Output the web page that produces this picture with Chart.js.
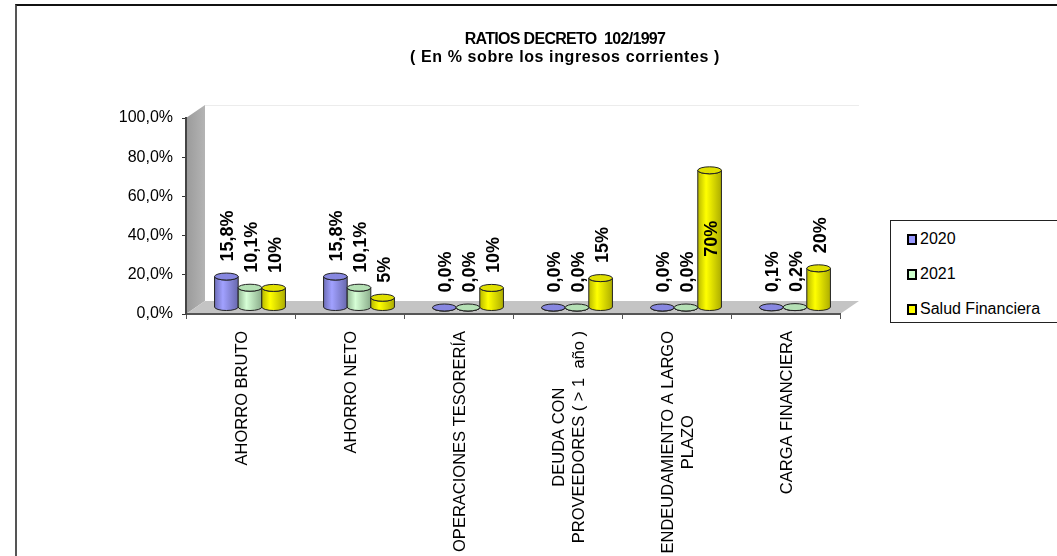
<!DOCTYPE html>
<html>
<head>
<meta charset="utf-8">
<script src="https://cdn.jsdelivr.net/npm/chart.js@4"></script>
<style>
  html, body { margin: 0; padding: 0; background: #fff; overflow: hidden; }
  body { width: 1057px; height: 556px; position: relative; font-family: "Liberation Sans", Arial, sans-serif; }
  #frame { position: absolute; left: 15px; top: 4px; width: 1100px; height: 600px;
           border-top: 2px solid #111; border-left: 2px solid #555; }
  #title { position: absolute; left: 365px; top: 30px; width: 400px; text-align: center;
           font-weight: bold; font-size: 16px; line-height: 18px; color: #000; }
  #title .l1 { letter-spacing: -0.7px; }
  #title .l2 { letter-spacing: 0.6px; }
  #legend { position: absolute; left: 890px; top: 220px; width: 170px; height: 101px;
            border: 1px solid #222; background: #fff; }
  .item { position: absolute; left: 16px; height: 18px; line-height: 18px; font-size: 16px; color: #000; }
  .swatch { display: inline-block; width: 6px; height: 7px; border: 2px solid #000;
            vertical-align: -1px; margin-right: 3px; }
  canvas { position: absolute; left: 0; top: 0; }
</style>
</head>
<body>
<div id="frame"></div>
<canvas id="ratios" width="1057" height="556"></canvas>
<div id="title"><span class="l1">RATIOS DECRETO&nbsp; 102/1997</span><br><span class="l2">( En % sobre los ingresos corrientes )</span></div>
<div id="legend"></div>
<script>
const FONT = '"Liberation Sans", Arial, sans-serif';

const categories = [
    'AHORRO BRUTO',
    'AHORRO NETO',
    'OPERACIONES TESORERÍA',
    ['DEUDA CON', 'PROVEEDORES ( > 1  año )'],
    ['ENDEUDAMIENTO A LARGO', 'PLAZO'],
    'CARGA FINANCIERA',
];

const seriesNames = ['2020', '2021', 'Salud Financiera'];
const values2020 = [15.8, 15.8, 0, 0, 0, 0.1];
const values2021 = [10.1, 10.1, 0, 0, 0, 0.2];
const valuesSalud = [10, 5, 10, 15, 70, 20];
const seriesColors = ['#9999ff', '#ccffcc', '#ffff00'];
const labelDecimals = [1, 1, 0];

// depth of the fake 3D box (back wall offset from the front axes)
const DEPTH_X = 19;
const DEPTH_Y = -13;
const INSIDE_FROM = 50; // tall bars carry their label inside

const shade = (hex, f) => {
    const n = parseInt(hex.slice(1), 16);
    const c = [(n >> 16) & 255, (n >> 8) & 255, n & 255].map((v) =>
        Math.max(0, Math.min(255, Math.round(v * f)))
    );
    return `rgb(${c[0]},${c[1]},${c[2]})`;
};

const fmt = (v, d) => v.toFixed(d).replace('.', ',') + '%';

// walls and floor behind the axes
const boxPlugin = {
    id: 'box3d',
    beforeDraw(chart) {
        const { ctx, chartArea: a } = chart;
        ctx.save();
        // back wall top edge
        ctx.strokeStyle = '#ececec';
        ctx.lineWidth = 1;
        ctx.beginPath();
        ctx.moveTo(a.left + DEPTH_X, a.top + DEPTH_Y + 0.5);
        ctx.lineTo(a.right + DEPTH_X, a.top + DEPTH_Y + 0.5);
        ctx.stroke();
        // left wall
        const g = ctx.createLinearGradient(a.left, 0, a.left + DEPTH_X, 0);
        g.addColorStop(0, '#9a9a9a');
        g.addColorStop(1, '#b4b4b4');
        ctx.fillStyle = g;
        ctx.beginPath();
        ctx.moveTo(a.left, a.top);
        ctx.lineTo(a.left + DEPTH_X, a.top + DEPTH_Y);
        ctx.lineTo(a.left + DEPTH_X, a.bottom + DEPTH_Y);
        ctx.lineTo(a.left, a.bottom);
        ctx.closePath();
        ctx.fill();
        // floor
        ctx.fillStyle = '#c4c4c4';
        ctx.beginPath();
        ctx.moveTo(a.left, a.bottom);
        ctx.lineTo(a.left + DEPTH_X, a.bottom + DEPTH_Y);
        ctx.lineTo(a.right + DEPTH_X, a.bottom + DEPTH_Y);
        ctx.lineTo(a.right, a.bottom);
        ctx.closePath();
        ctx.fill();
        ctx.restore();
    },
};

const drawCylinder = (ctx, cx, top, bottom, w, color) => {
    const rx = w / 2;
    const ry = 3.5;
    const g = ctx.createLinearGradient(cx - rx, 0, cx + rx, 0);
    g.addColorStop(0, shade(color, 0.72));
    g.addColorStop(0.35, shade(color, 1.05));
    g.addColorStop(1, shade(color, 0.68));
    ctx.fillStyle = g;
    ctx.strokeStyle = '#222';
    ctx.lineWidth = 1;
    ctx.beginPath();
    ctx.moveTo(cx - rx, top);
    ctx.lineTo(cx - rx, bottom);
    ctx.ellipse(cx, bottom, rx, ry, 0, Math.PI, 0, true);
    ctx.lineTo(cx + rx, top);
    ctx.ellipse(cx, top, rx, ry, 0, 0, Math.PI, false);
    ctx.closePath();
    ctx.fill();
    ctx.stroke();
    ctx.fillStyle = shade(color, 0.88);
    ctx.beginPath();
    ctx.ellipse(cx, top, rx, ry, 0, 0, Math.PI * 2);
    ctx.fill();
    ctx.stroke();
};

// cylinders plus their value labels, replacing the flat bars
const cylinderPlugin = {
    id: 'cylinders',
    beforeDatasetsDraw(chart) {
        const { ctx } = chart;
        const sets = chart.data.datasets;
        ctx.save();
        categories.forEach((_, i) => {
            sets.forEach((ds, di) => {
                const el = chart.getDatasetMeta(di).data[i];
                const { x, y, base, width } = el.getProps(['x', 'y', 'base', 'width'], true);
                drawCylinder(ctx, x + DEPTH_X / 2, y + DEPTH_Y / 2, base + DEPTH_Y / 2, width, seriesColors[di]);
            });
        });
        ctx.fillStyle = '#000';
        ctx.font = `bold 18px ${FONT}`;
        ctx.textBaseline = 'middle';
        sets.forEach((ds, di) => {
            chart.getDatasetMeta(di).data.forEach((el, i) => {
                const v = ds.data[i];
                const { x, y, base } = el.getProps(['x', 'y', 'base'], true);
                const cx = x + DEPTH_X / 2 + 1;
                const top = y + DEPTH_Y / 2;
                ctx.save();
                if (v >= INSIDE_FROM) {
                    ctx.translate(cx, (top + base + DEPTH_Y / 2) / 2);
                    ctx.textAlign = 'center';
                } else {
                    ctx.translate(cx, top - 15);
                    ctx.textAlign = 'left';
                }
                ctx.rotate(-Math.PI / 2);
                ctx.fillText(fmt(v, labelDecimals[di]), 0, 1);
                ctx.restore();
            });
        });
        ctx.restore();
        return false;
    },
};

// vertical category names, lines centred on each other
const xLabelPlugin = {
    id: 'xLabels',
    afterDraw(chart) {
        const { ctx } = chart;
        const xs = chart.scales.x;
        ctx.save();
        ctx.font = `16.5px ${FONT}`;
        ctx.fillStyle = '#000';
        ctx.textAlign = 'center';
        ctx.textBaseline = 'middle';
        categories.forEach((cat, i) => {
            const lines = Array.isArray(cat) ? cat : [cat];
            const longest = Math.max(...lines.map((l) => ctx.measureText(l).width));
            const px = xs.getPixelForValue(i);
            lines.forEach((line, j) => {
                ctx.save();
                ctx.translate(px + 2 + (j - (lines.length - 1) / 2) * 20, xs.top + 17 + longest / 2);
                ctx.rotate(-Math.PI / 2);
                ctx.fillText(line, 0, 0);
                ctx.restore();
            });
        });
        ctx.restore();
    },
};

const data = {
    labels: categories.map((c) => (Array.isArray(c) ? c.join(' ') : c)),
    datasets: [values2020, values2021, valuesSalud].map((vals, i) => ({
        label: seriesNames[i],
        data: vals,
        backgroundColor: seriesColors[i],
        categoryPercentage: 0.65,
        barPercentage: 1,
    })),
};

const config = {
    type: 'bar',
    data: data,
    options: {
        responsive: false,
        animation: false,
        layout: { padding: { top: 118, right: 217, left: 0, bottom: 0 } },
        plugins: {
            legend: { display: false },
            title: { display: false },
            tooltip: { enabled: false },
        },
        scales: {
            x: {
                grid: { drawOnChartArea: false, tickLength: 5, color: '#555', lineWidth: 1 },
                border: { color: '#555', width: 2 },
                ticks: { display: false },
                afterFit: (s) => { s.height = 242; },
            },
            y: {
                min: 0,
                max: 100,
                ticks: {
                    stepSize: 20,
                    padding: 9,
                    color: '#000',
                    font: { family: FONT, size: 16 },
                    callback: (v) => fmt(v, 1),
                },
                grid: { drawOnChartArea: false, tickLength: 4, color: '#333' },
                border: { color: '#444', width: 2 },
                afterFit: (s) => { s.width = 186; },
            },
        },
    },
    plugins: [boxPlugin, cylinderPlugin, xLabelPlugin],
};

const ratiosChart = new Chart(document.getElementById('ratios'), config);

// legend box built from the datasets
const legendEl = document.getElementById('legend');
ratiosChart.data.datasets.forEach((ds, i) => {
    const item = document.createElement('div');
    item.className = 'item';
    item.style.top = 9 + i * 35 + 'px';
    const sw = document.createElement('span');
    sw.className = 'swatch';
    sw.style.background = ds.backgroundColor;
    item.appendChild(sw);
    item.appendChild(document.createTextNode(ds.label));
    legendEl.appendChild(item);
});
</script>
</body>
</html>
